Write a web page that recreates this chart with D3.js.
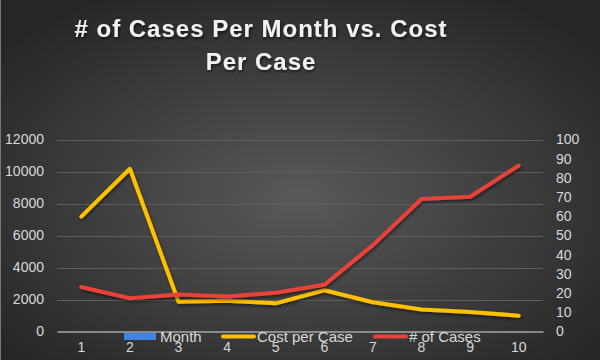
<!DOCTYPE html>
<html><head><meta charset="utf-8">
<script src="https://cdn.jsdelivr.net/npm/d3@7"></script>
<style>html,body{margin:0;padding:0;background:#333;}svg{display:block;}</style>
</head><body>
<svg id="c" width="600" height="360"></svg>
<script>
const months = [1,2,3,4,5,6,7,8,9,10];
const monthValues = [1,2,3,4,5,6,7,8,9,10];
const costPerCase = [7180,10170,1860,1920,1760,2580,1830,1380,1220,990];
const numCases = [23.2,17.3,19.3,18.2,20.2,24.3,45,69,70.2,86.4];
const leftTicks = [0,2000,4000,6000,8000,10000,12000];
const rightTicks = [0,10,20,30,40,50,60,70,80,90,100];
const titleLines = ["# of Cases Per Month vs. Cost", "Per Case"];
const legendItems = ["Month","Cost per Case","# of Cases"];

const svg = d3.select("#c");
const W = 600, H = 360;
const defs = svg.append("defs");
const rg = defs.append("radialGradient").attr("id","bg").attr("cx","50%").attr("cy","55%").attr("r","65%");
rg.append("stop").attr("offset","0%").attr("stop-color","#595959");
rg.append("stop").attr("offset","100%").attr("stop-color","#262626");
const f = defs.append("filter").attr("id","sh").attr("x","-10%").attr("y","-20%").attr("width","120%").attr("height","150%");
f.append("feDropShadow").attr("dx",1).attr("dy",2).attr("stdDeviation",1.5).attr("flood-color","#000").attr("flood-opacity",0.6);
const f2 = defs.append("filter").attr("id","lsh").attr("x","-10%").attr("y","-20%").attr("width","120%").attr("height","150%");
f2.append("feDropShadow").attr("dx",1).attr("dy",2).attr("stdDeviation",1.5).attr("flood-color","#000").attr("flood-opacity",0.5);

svg.append("rect").attr("width",W).attr("height",H).attr("fill","url(#bg)");
svg.append("line").attr("x1",0.5).attr("x2",0.5).attr("y1",0).attr("y2",H).attr("stroke","#777").attr("stroke-width",1);

const x = d3.scaleBand().domain(months).range([57,543]).padding(0);
const yL = d3.scaleLinear().domain([0,12000]).range([331.5,139.5]);
const yR = d3.scaleLinear().domain([0,100]).range([331.5,139.5]);

// gridlines
svg.append("g").selectAll("line").data(leftTicks.slice(1)).join("line")
  .attr("x1",57).attr("x2",543).attr("y1",d=>Math.round(yL(d))+0.5).attr("y2",d=>Math.round(yL(d))+0.5)
  .attr("stroke","#5e5e5e").attr("stroke-width",1);

// left axis
const gl = svg.append("g").attr("transform","translate(50,0)")
  .call(d3.axisLeft(yL).tickValues(leftTicks).tickSize(0).tickPadding(6).tickFormat(d3.format("d")));
gl.select(".domain").remove();
gl.selectAll("text").attr("fill","#d9d9d9").style("font-family","Arial, 'Liberation Sans', sans-serif").style("font-size","14px");

// right axis
const gr = svg.append("g").attr("transform","translate(550,0)")
  .call(d3.axisRight(yR).tickValues(rightTicks).tickSize(0).tickPadding(6));
gr.select(".domain").remove();
gr.selectAll("text").attr("fill","#d9d9d9").style("font-family","Arial, 'Liberation Sans', sans-serif").style("font-size","14px");

// bars (Month series)
svg.append("g").selectAll("rect").data(monthValues).join("rect")
  .attr("x",(d,i)=>x(months[i])+x.bandwidth()*0.2).attr("width",x.bandwidth()*0.6)
  .attr("y",d=>yL(d)).attr("height",d=>yL(0)-yL(d)).attr("fill","#3f84e5");

// x axis
const gx = svg.append("g").attr("transform","translate(0,331.5)")
  .call(d3.axisBottom(x).tickSize(0).tickPadding(11));
gx.select(".domain").attr("stroke","#a6a6a6").attr("stroke-width",1.5);
gx.selectAll("text").attr("fill","#d9d9d9").style("font-family","Arial, 'Liberation Sans', sans-serif").style("font-size","14px");

// lines
const lineL = d3.line().x((d,i)=>x(months[i])+x.bandwidth()/2).y(d=>yL(d));
const lineR = d3.line().x((d,i)=>x(months[i])+x.bandwidth()/2).y(d=>yR(d));
svg.append("path").datum(costPerCase).attr("d",lineL).attr("fill","none").attr("stroke","#ffc000")
  .attr("stroke-width",4).attr("stroke-linecap","round").attr("stroke-linejoin","round").attr("filter","url(#lsh)");
svg.append("path").datum(numCases).attr("d",lineR).attr("fill","none").attr("stroke","#e8423a")
  .attr("stroke-width",4).attr("stroke-linecap","round").attr("stroke-linejoin","round").attr("filter","url(#lsh)");

// legend
const lg = svg.append("g").style("font-family","Arial, 'Liberation Sans', sans-serif").style("font-size","15px");
const legX = [124,221,373];
lg.append("rect").attr("x",legX[0]).attr("y",333).attr("width",32).attr("height",7).attr("fill","#3f84e5");
lg.append("line").attr("x1",legX[1]+2).attr("x2",legX[1]+33).attr("y1",336.5).attr("y2",336.5).attr("stroke","#ffc000").attr("stroke-width",4).attr("stroke-linecap","round");
lg.append("line").attr("x1",legX[2]+2).attr("x2",legX[2]+33).attr("y1",336.5).attr("y2",336.5).attr("stroke","#e8423a").attr("stroke-width",4).attr("stroke-linecap","round");
lg.selectAll("text").data(legendItems).join("text")
  .attr("x",(d,i)=>legX[i]+36).attr("y",342).attr("fill","#d9d9d9").text(d=>d);

// title
const tg = svg.append("g").attr("filter","url(#sh)");
tg.selectAll("text").data(titleLines).join("text")
  .attr("x",261).attr("y",(d,i)=>37+i*33).attr("text-anchor","middle")
  .attr("fill","#f2f2f2").style("font-family","Arial, 'Liberation Sans', sans-serif")
  .style("font-size","24px").style("font-weight","bold").style("letter-spacing","1px").text(d=>d);
</script>
</body></html>
